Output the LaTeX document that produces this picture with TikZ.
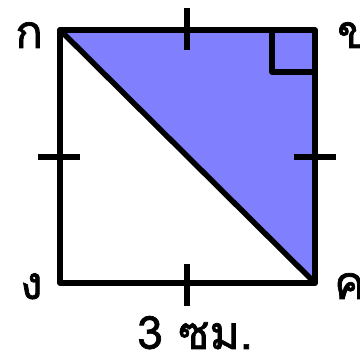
\documentclass[tikz,border=0pt]{standalone}
\usepackage{fontspec}
\newfontfamily\thaifont[Script=Thai,BoldFont=Loma,BoldFeatures={FakeBold=1.5}]{Loma}
\begin{document}
\begin{tikzpicture}[x=1pt,y=-1pt,
  edge/.style={line width=5.5pt,line cap=round,line join=round},
  tick/.style={line width=5.5pt},
  lbl/.style={font=\thaifont\bfseries\fontsize{46}{50}\selectfont,inner sep=0pt}]
\useasboundingbox (0,0) rectangle (360,355);
\coordinate (A) at (60,30);
\coordinate (B) at (315,30);
\coordinate (C) at (315,283);
\coordinate (D) at (60,283);
\fill[fill={rgb,255:red,128;green,128;blue,255}] (A) -- (B) -- (C) -- cycle;
\draw[edge] (A) -- (B) -- (C) -- (D) -- cycle;
\draw[edge] (A) -- (C);
\draw[line width=5.5pt,line join=round] (315,72) -- (272,72) -- (272,30);
\draw[tick] (187,8) -- (187,50);
\draw[tick] (187,264) -- (187,306);
\draw[tick] (38,157) -- (80,157);
\draw[tick] (294,157) -- (336,157);
\node[lbl,anchor=base west] (la) at (15,48) {ก};
\node[lbl,anchor=base west] (lb) at (337,48) {ข};
\node[lbl,anchor=base west] (ld) at (20,299) {ง};
\node[lbl,anchor=base west] (lc) at (334,299) {ค};
\node[lbl,anchor=base] (len) at (195,349) {3 ซม.};
\end{tikzpicture}
\end{document}
